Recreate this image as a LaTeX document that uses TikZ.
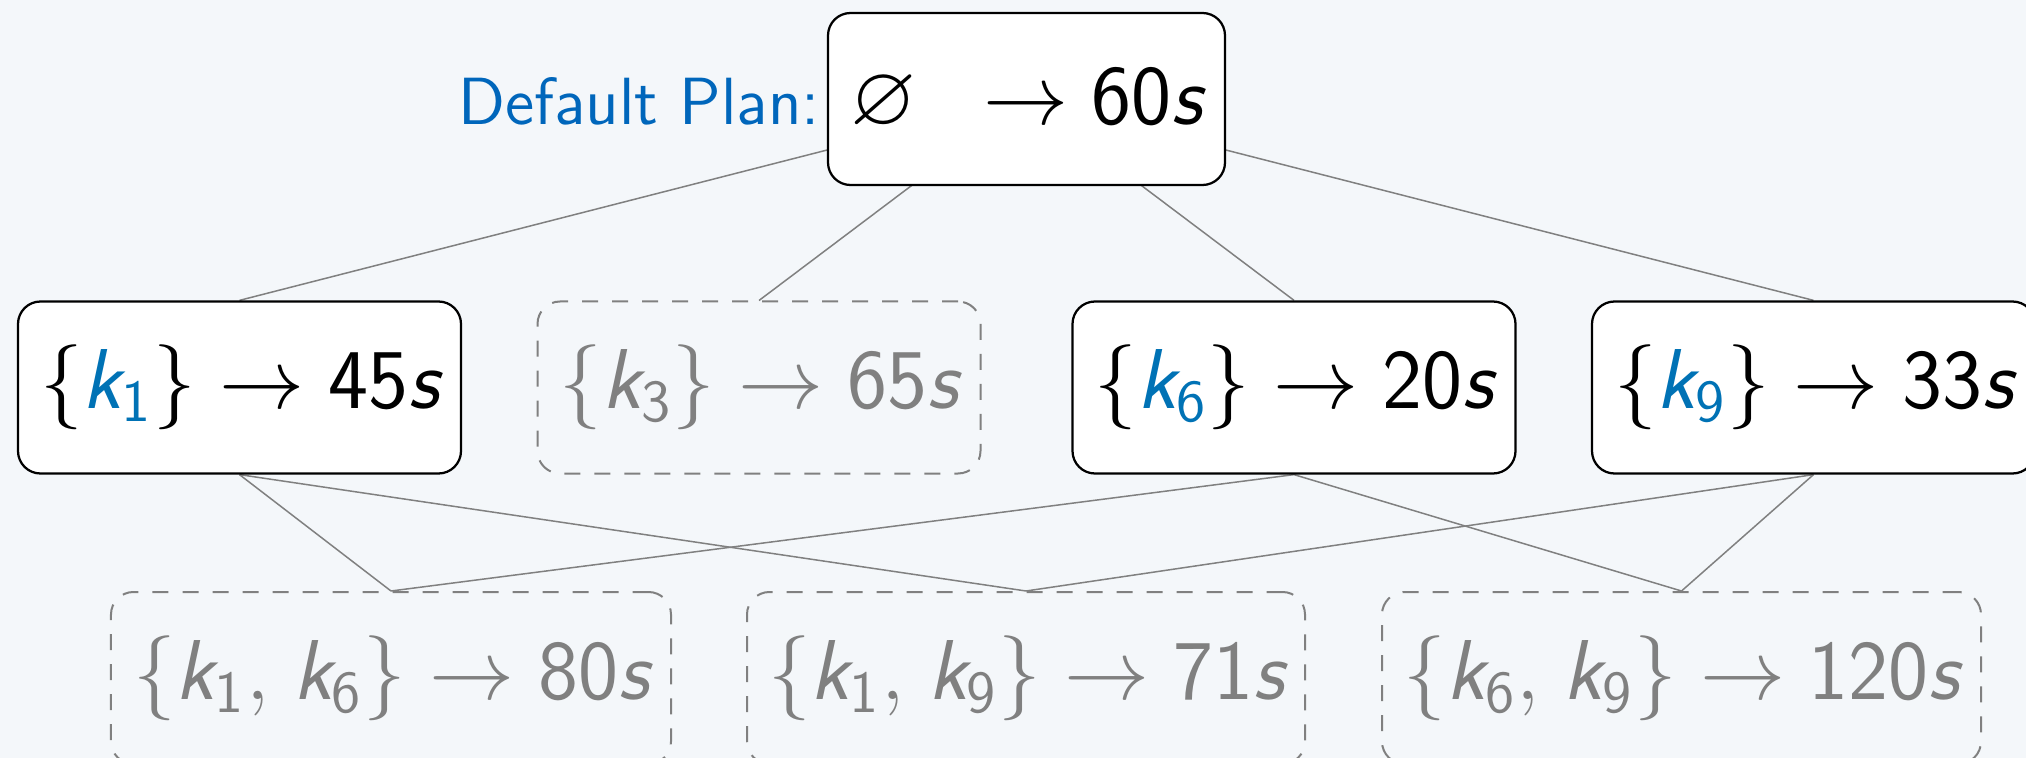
\RequirePackage{fix-cm}
\documentclass[tikz,border=0pt]{standalone}
\usepackage{amsmath,amssymb}
\usepackage{fontspec}

\definecolor{bgc}{HTML}{F4F7FA}
\definecolor{planblue}{HTML}{0066BB}
\definecolor{kblue}{HTML}{0072B5}
\definecolor{edgegray}{HTML}{808080}

% sans italic key names and sans durations, as on a beamer slide
\newcommand\kv[1]{\text{\sffamily\itshape k}_{\text{\sffamily #1}}}
\newcommand\bk[1]{\textcolor{kblue}{\kv{#1}}}
\newcommand\tsec[1]{\text{\sffamily #1\itshape s}}
\newcommand\nodefont{\fontsize{17}{20}\selectfont\sffamily}
\newcommand\labelfont{\fontsize{13.35}{16}\selectfont\sffamily}

\pgfdeclarelayer{back}
\pgfsetlayers{back,main}

\begin{document}
\begin{tikzpicture}[x=0.2pt,y=-0.2pt,
  plan/.style={draw=black, line width=0.45pt, fill=white, rounded corners=4.5pt,
    minimum height=34.4pt, inner xsep=2pt, inner ysep=0pt, font=\nodefont},
  pruned/.style={draw=edgegray, line width=0.4pt, dash pattern=on 3.2pt off 2.8pt,
    rounded corners=4.5pt, minimum height=34.4pt, inner xsep=2pt, inner ysep=0pt,
    text=edgegray, font=\nodefont},
  link/.style={draw=edgegray, line width=0.3pt}]

\useasboundingbox (0,0) rectangle (2026,758);
\begin{pgfonlayer}{back}
  \fill[bgc] (0,0) rectangle (2026,758);
\end{pgfonlayer}

% root: the default plan
\node[plan, minimum width=79.4pt] (top) at (1026.5,99) {$\varnothing\enspace\to\tsec{60}$};
\node[anchor=base east, inner sep=0pt, text=planblue, font=\labelfont] (lbl)
  at ([xshift=-1.2pt]top.base west) {Default Plan:};

% single keys
\node[plan,   minimum width=88.6pt] (k1) at (239.5,387.5) {$\{\bk{1}\}\to\tsec{45}$};
\node[pruned, minimum width=88.6pt] (k3) at (759,387.5)   {$\{\kv{3}\}\to\tsec{65}$};
\node[plan,   minimum width=88.6pt] (k6) at (1294,387.5)  {$\{\bk{6}\}\to\tsec{20}$};
\node[plan,   minimum width=88.6pt] (k9) at (1813.5,387.5){$\{\bk{9}\}\to\tsec{33}$};

% pairs of keys
\node[pruned, minimum width=112pt]   (k16) at (391,678)    {$\{\kv{1},\mskip2mu\kv{6}\}\to\tsec{80}$};
\node[pruned, minimum width=111.6pt] (k19) at (1026,678)   {$\{\kv{1},\mskip2mu\kv{9}\}\to\tsec{71}$};
\node[pruned, minimum width=119.8pt] (k69) at (1681.5,678) {$\{\kv{6},\mskip2mu\kv{9}\}\to\tsec{120}$};

\begin{pgfonlayer}{back}
  \draw[link] (top.center) -- (k1.north);
  \draw[link] (top.center) -- (k3.north);
  \draw[link] (top.center) -- (k6.north);
  \draw[link] (top.center) -- (k9.north);
  \draw[link] (k1.south) -- (k16.north);
  \draw[link] (k1.south) -- (k19.north);
  \draw[link] (k6.south) -- (k16.north);
  \draw[link] (k6.south) -- (k69.north);
  \draw[link] (k9.south) -- (k19.north);
  \draw[link] (k9.south) -- (k69.north);
\end{pgfonlayer}
\end{tikzpicture}
\end{document}
